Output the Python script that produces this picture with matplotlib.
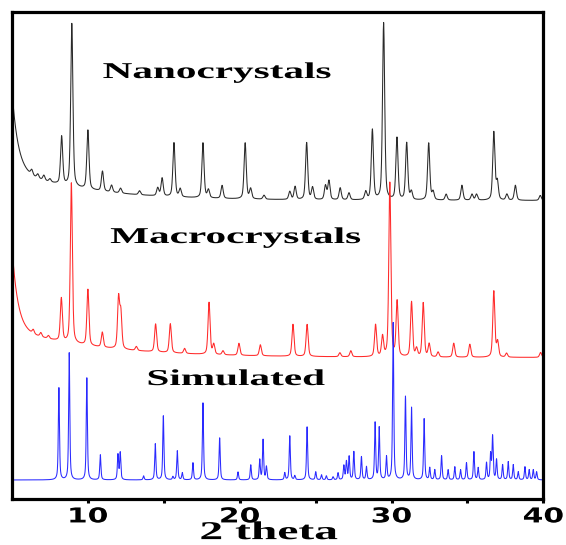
import numpy as np
import matplotlib
matplotlib.use("Agg")
import matplotlib.pyplot as plt
from matplotlib import patheffects
from matplotlib.transforms import Affine2D

# ---------------- data ----------------
x_limits = (5, 40)
x_major_ticks = [10, 20, 30, 40]
x_minor_ticks = [15, 25, 35]
x_label = "2 theta"
trace_names = ["Nanocrystals", "Macrocrystals", "Simulated"]

# Nanocrystals (black) – peak positions (2θ) and heights above background
nano_pos = [6.30, 6.70, 7.10, 7.50, 8.27, 8.94, 10.00, 10.96, 11.56, 12.15,
            13.40, 14.60, 14.89, 15.67, 16.08, 17.58, 17.94, 18.84, 20.36, 20.72,
            21.60, 23.30, 23.65, 24.41, 24.80, 25.65, 25.88, 26.62, 27.20, 28.30,
            28.74, 29.48, 30.36, 31.00, 31.31, 32.45, 32.74, 33.60, 34.64, 35.30,
            35.60, 36.74, 36.97, 37.60, 38.16, 39.80]
nano_int = [5, 4, 5, 3, 48, 163, 59, 20, 7, 5,
            4, 8, 18, 54, 8, 55, 8, 13, 56, 10,
            4, 8, 13, 57, 12, 14, 19, 12, 7, 8,
            70, 177, 62, 57, 8, 57, 8, 6, 15, 6,
            6, 68, 18, 6, 15, 5]
nano_bg = [299, 29.7, 5.05, 80, 0.40]     # level, slow amp, slow decay, fast amp, fast decay

# Macrocrystals (red)
macro_pos = [6.40, 6.90, 7.40, 8.25, 8.91, 10.00, 10.95, 12.02, 12.17, 13.19,
             14.46, 15.43, 16.37, 17.98, 18.29, 18.90, 19.95, 21.36, 23.51, 24.44,
             26.60, 27.32, 28.95, 29.41, 29.89, 30.37, 31.32, 31.65, 32.09, 32.48,
             33.07, 34.10, 35.16, 36.74, 36.99, 37.58, 39.82]
macro_int = [4, 4, 3, 43, 160, 56, 15, 50, 35, 4,
             28, 29, 5, 52, 10, 4, 12, 11, 32, 32,
             4, 6, 32, 20, 174, 55, 55, 8, 54, 13,
             5, 14, 13, 66, 15, 4, 5]
macro_bg = [142, 28, 5.8, 83, 0.38]

# Simulated (blue)
sim_pos = [8.09, 8.77, 9.93, 10.82, 11.98, 12.13, 13.67, 14.44, 14.97, 15.60,
           15.89, 16.22, 16.92, 17.58, 18.68, 19.89, 20.73, 21.32, 21.54, 21.76,
           22.97, 23.30, 23.63, 24.44, 25.01, 25.39, 25.71, 26.15, 26.48, 26.86,
           27.03, 27.21, 27.52, 28.02, 28.35, 28.92, 29.19, 29.67, 30.11, 30.92,
           31.32, 32.15, 32.52, 32.85, 33.30, 33.73, 34.17, 34.55, 34.94, 35.43,
           35.71, 36.26, 36.53, 36.66, 36.92, 37.32, 37.69, 38.02, 38.35, 38.79,
           39.07, 39.34, 39.56]
sim_int = [92, 127, 102, 25, 25, 27, 4, 36, 64, 3,
           29, 7, 17, 77, 42, 8, 15, 20, 40, 13,
           7, 44, 4, 53, 8, 5, 4, 3, 7, 14,
           18, 23, 28, 23, 13, 57, 52, 23, 157, 83,
           72, 61, 12, 10, 24, 10, 13, 10, 17, 28,
           12, 17, 25, 43, 20, 15, 18, 15, 8, 13,
           10, 10, 8]
sim_bg = [19.5, 0, 1, 0, 1]

# ---------------- rendering helpers ----------------
def pseudo_voigt(x, centers, heights, fwhm, eta):
    y = np.zeros_like(x)
    hw = fwhm / 2.0
    sig = fwhm / 2.3548
    for c, h in zip(centers, heights):
        d = x - c
        lor = 1.0 / (1.0 + (d / hw) ** 2)
        gau = np.exp(-0.5 * (d / sig) ** 2)
        y += h * (eta * lor + (1 - eta) * gau)
    return y


def background(x, p):
    lvl, a2, t2, a1, t1 = p
    return lvl + a2 * np.exp(-(x - 5) / t2) + a1 * np.exp(-(x - 5) / t1)


class HStretch(patheffects.AbstractPathEffect):
    """Draw text glyphs stretched horizontally about their centre."""
    def __init__(self, sx):
        super().__init__()
        self.sx = sx

    def draw_path(self, renderer, gc, tpath, affine, rgbFace=None):
        ext = tpath.get_extents()
        cx = 0.5 * (ext.x0 + ext.x1)
        tr = Affine2D().translate(-cx, 0).scale(self.sx, 1).translate(cx, 0) + affine
        renderer.draw_path(gc, tpath, tr, rgbFace)


x = np.linspace(x_limits[0], x_limits[1], 3501)
y_nano = background(x, nano_bg) + pseudo_voigt(x, nano_pos, nano_int, 0.17, 0.45)
y_macro = background(x, macro_bg) + pseudo_voigt(x, macro_pos, macro_int, 0.16, 0.45)
y_sim = background(x, sim_bg) + pseudo_voigt(x, sim_pos, sim_int, 0.09, 0.6)

# ---------------- figure ----------------
fig = plt.figure(figsize=(5.66, 5.45), dpi=100)
ax = fig.add_axes([0.0212, 0.0835, 0.9387, 0.8950])

ax.plot(x, y_nano, color="#2a2a2a", lw=0.75)
ax.plot(x, y_macro, color="#ff2a2a", lw=0.75)
ax.plot(x, y_sim, color="#2a2aff", lw=0.75)

ax.set_xlim(*x_limits)
ax.set_ylim(0, 487.8)

for sp in ax.spines.values():
    sp.set_linewidth(2.3)
    sp.set_color("black")

ax.set_xticks(x_major_ticks)
ax.set_xticks(x_minor_ticks, minor=True)
ax.tick_params(axis="x", which="both", direction="out", length=3, width=2.2,
               pad=2, labelsize=14.8)
ax.tick_params(axis="y", which="both", left=False, labelleft=False)

tick_fx = [HStretch(1.45)]
for t in ax.xaxis.get_major_ticks():
    t.label1.set_fontfamily("DejaVu Sans")
    t.label1.set_fontweight("bold")
    t.label1.set_path_effects(tick_fx)

serif = "Liberation Serif"
lbl = ax.set_xlabel(x_label, fontsize=18.5, fontweight="bold", family=serif)
lbl.set_va("baseline")
lbl.set_path_effects([HStretch(1.85)])
ax.xaxis.set_label_coords(0.484, -0.0812)

label_pos = [(18.52, 421.5), (19.74, 256.5), (19.76, 114.5)]
for name, (tx, ty) in zip(trace_names, label_pos):
    ax.text(tx, ty, name, ha="center", va="baseline", fontsize=16.3,
            fontweight="bold", family=serif, path_effects=[HStretch(1.82)])

fig.savefig("out.png", dpi=100)
